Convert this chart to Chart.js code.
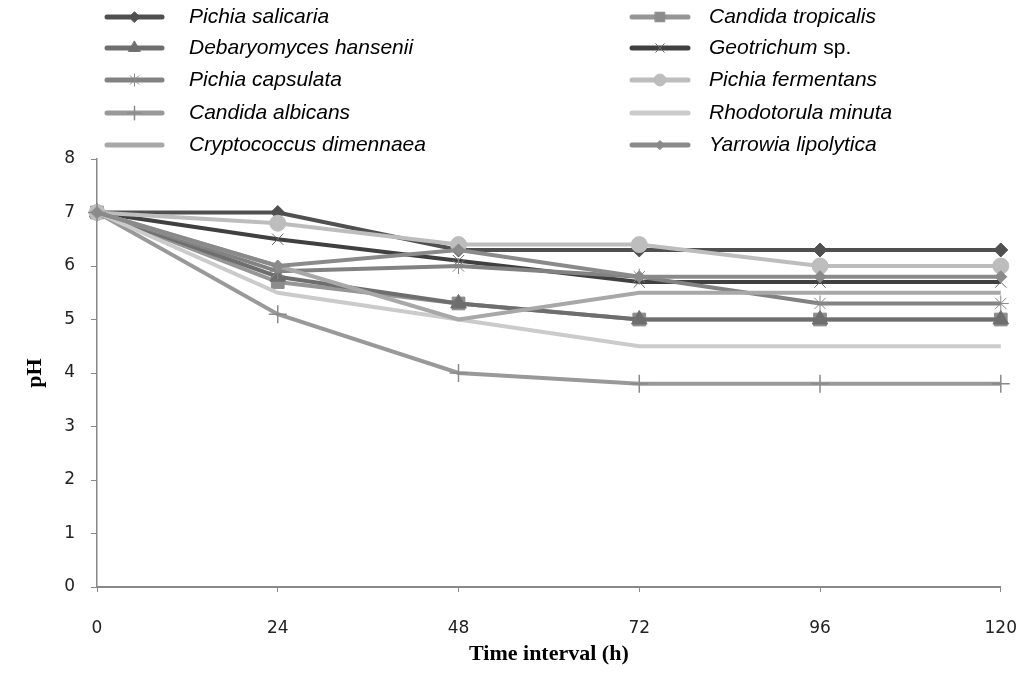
<!DOCTYPE html>
<html>
<head>
<meta charset="utf-8">
<script src="https://cdn.jsdelivr.net/npm/chart.js@4.4.1/dist/chart.umd.min.js"></script>
<style>
  html, body { margin: 0; padding: 0; background: #fff; overflow: hidden; }
  #wrap { width: 1024px; height: 682px; overflow: hidden; }
</style>
</head>
<body>
<div id="wrap"><canvas id="grafico" width="1043" height="682"></canvas></div>
<script>
// horas
const tempos = ['0', '24', '48', '72', '96', '120'];

// pH de cada levedura
const pichiaSalicaria = [7, 7, 6.3, 6.3, 6.3, 6.3];
const candidaTropicalis = [7, 5.7, 5.3, 5.0, 5.0, 5.0];
const debaryomycesHansenii = [7, 5.8, 5.3, 5.0, 5.0, 5.0];
const geotrichum = [7, 6.5, 6.1, 5.7, 5.7, 5.7];
const pichiaCapsulata = [7, 5.9, 6.0, 5.8, 5.3, 5.3];
const pichiaFermentans = [7, 6.8, 6.4, 6.4, 6.0, 6.0];
const candidaAlbicans = [7, 5.1, 4.0, 3.8, 3.8, 3.8];
const rhodotorulaMinuta = [7, 5.5, 5.0, 4.5, 4.5, 4.5];
const cryptococcusDimennaea = [7, 6.0, 5.0, 5.5, 5.5, 5.5];
const yarrowiaLipolytica = [7, 6.0, 6.3, 5.8, 5.8, 5.8];

const yTicks = [0, 1, 2, 3, 4, 5, 6, 7, 8];

const series = [
  { nome: [['Pichia salicaria', true]], dados: pichiaSalicaria, cor: '#505050', estilo: 'rectRot', raio: 7, bw: 1 },
  { nome: [['Candida tropicalis', true]], dados: candidaTropicalis, cor: '#969696', estilo: 'rect', raio: 9, bw: 1, corPonto: '#8c8c8c' },
  { nome: [['Debaryomyces hansenii', true]], dados: debaryomycesHansenii, cor: '#6e6e6e', estilo: 'triangle', raio: 9, bw: 1 },
  { nome: [['Geotrichum', true], [' sp.', false]], dados: geotrichum, cor: '#404040', estilo: 'crossRot', raio: 8, bw: 1, corPonto: '#666' },
  { nome: [['Pichia capsulata', true]], dados: pichiaCapsulata, cor: '#828282', estilo: 'star', raio: 8, bw: 1, corPonto: '#888' },
  { nome: [['Pichia fermentans', true]], dados: pichiaFermentans, cor: '#bdbdbd', estilo: 'circle', raio: 8, bw: 1 },
  { nome: [['Candida albicans', true]], dados: candidaAlbicans, cor: '#999999', estilo: 'cross', raio: 9, bw: 1.5, corPonto: '#8a8a8a' },
  { nome: [['Rhodotorula minuta', true]], dados: rhodotorulaMinuta, cor: '#cbcbcb', estilo: false, raio: 0, bw: 0 },
  { nome: [['Cryptococcus dimennaea', true]], dados: cryptococcusDimennaea, cor: '#a8a8a8', estilo: false, raio: 0, bw: 0 },
  { nome: [['Yarrowia lipolytica', true]], dados: yarrowiaLipolytica, cor: '#8a8a8a', estilo: 'rectRot', raio: 6, bw: 1 }
];

const datasets = series.map((s, i) => ({
  label: s.nome.map(p => p[0]).join(''),
  data: s.dados,
  borderColor: s.cor,
  backgroundColor: s.corPonto || s.cor,
  borderWidth: 4,
  pointStyle: s.estilo,
  pointRadius: s.raio,
  pointBorderWidth: s.bw,
  pointBorderColor: s.corPonto || s.cor,
  pointBackgroundColor: s.corPonto || s.cor,
  tension: 0,
  clip: false,
  order: series.length - i
}));

// legenda em duas colunas, desenhada a mao
const pluginLegenda = {
  id: 'pluginLegenda',
  afterDraw(chart) {
    const { ctx } = chart;
    const linhasY = [17, 48, 80, 113, 145];
    const colunas = [
      { x0: 107, x1: 162, xt: 189 },
      { x0: 632, x1: 688, xt: 709 }
    ];
    ctx.save();
    series.forEach((s, i) => {
      const col = colunas[i % 2];
      const y = linhasY[Math.floor(i / 2)];
      ctx.strokeStyle = s.cor;
      ctx.lineWidth = 5;
      ctx.lineCap = 'round';
      ctx.beginPath();
      ctx.moveTo(col.x0, y);
      ctx.lineTo(col.x1, y);
      ctx.stroke();
      if (s.estilo) {
        ctx.fillStyle = s.corPonto || s.cor;
        ctx.strokeStyle = s.corPonto || s.cor;
        ctx.lineWidth = s.bw;
        Chart.helpers.drawPoint(ctx, { pointStyle: s.estilo, radius: s.raio * 0.75, borderWidth: s.bw, rotation: 0 }, (col.x0 + col.x1) / 2, y);
      }
      let x = col.xt;
      ctx.fillStyle = '#000';
      ctx.textBaseline = 'middle';
      ctx.textAlign = 'left';
      s.nome.forEach(([texto, italico]) => {
        ctx.font = (italico ? 'italic ' : '') + '21px "Liberation Sans", Arial, sans-serif';
        ctx.fillText(texto, x, y);
        x += ctx.measureText(texto).width;
      });
    });
    ctx.restore();
  }
};

const ctx = document.getElementById('grafico').getContext('2d');
new Chart(ctx, {
  type: 'line',
  data: { labels: tempos, datasets: datasets },
  options: {
    responsive: false,
    animation: false,
    layout: { padding: { top: 159, right: 0, left: 0, bottom: 0 } },
    plugins: {
      legend: { display: false },
      tooltip: { enabled: false }
    },
    scales: {
      x: {
        offset: false,
        grid: { display: true, drawOnChartArea: false, drawTicks: true, tickLength: 5, color: '#888', lineWidth: 1 },
        border: { color: '#888', width: 2 },
        ticks: { color: '#222', font: { family: 'DejaVu Sans', size: 17 }, padding: 26, maxRotation: 0 },
        title: {
          display: true,
          text: 'Time interval (h)',
          color: '#000',
          font: { family: '"Liberation Serif", "Times New Roman", serif', size: 22, weight: 'bold' },
          padding: { top: 10, bottom: 14 }
        },
        afterFit(scale) { scale.height = 95; }
      },
      y: {
        min: 0,
        max: 8,
        afterBuildTicks(scale) { scale.ticks = yTicks.map(v => ({ value: v })); },
        grid: { display: true, drawOnChartArea: false, drawTicks: true, tickLength: 6, color: '#888', lineWidth: 1 },
        border: { color: '#888', width: 1.5 },
        ticks: { color: '#222', font: { family: 'DejaVu Sans', size: 17 }, padding: 16 },
        title: {
          display: true,
          text: 'pH',
          color: '#000',
          font: { family: '"Liberation Serif", "Times New Roman", serif', size: 22, weight: 'bold' },
          padding: { top: 22, bottom: 0 }
        },
        afterFit(scale) { scale.width = 97; }
      }
    }
  },
  plugins: [pluginLegenda]
});
</script>
</body>
</html>
